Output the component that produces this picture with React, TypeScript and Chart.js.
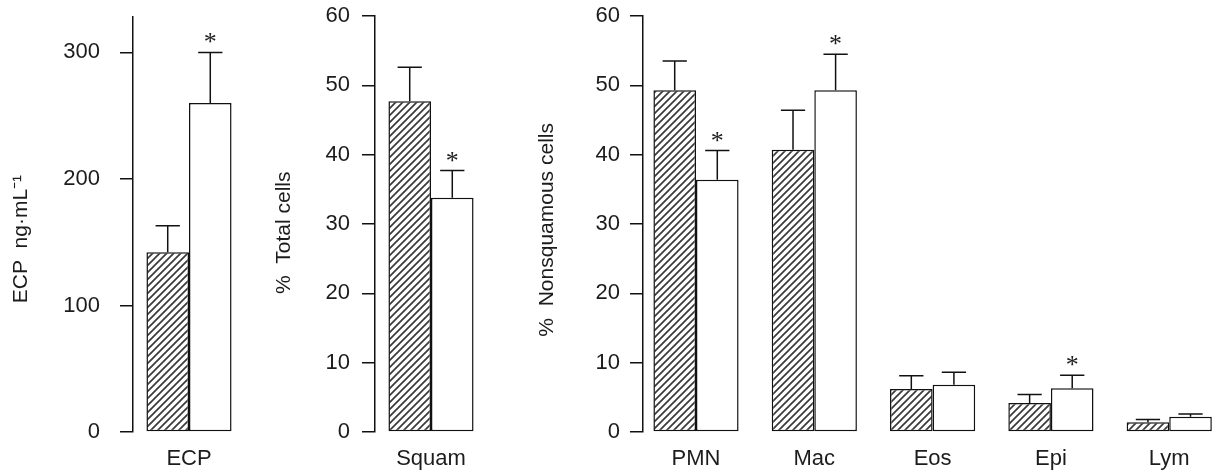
import React, { useEffect, useRef } from "react";
import { Chart, registerables } from "chart.js";

Chart.register(...registerables);

// ---- data ----
const ecpCats = ["ECP"];
const ecpHatched = [142];
const ecpHatchedErr = [21];
const ecpWhite = [260];
const ecpWhiteErr = [40];
const ecpWhiteSig = [true];
const ecpTicks = [0, 100, 200, 300];

const squamCats = ["Squam"];
const squamHatched = [47.7];
const squamHatchedErr = [4.9];
const squamWhite = [33.8];
const squamWhiteErr = [3.9];
const squamWhiteSig = [true];

const cellCats = ["PMN", "Mac", "Eos", "Epi", "Lym"];
const cellHatched = [49.3, 40.7, 6.2, 4.2, 1.4];
const cellHatchedErr = [4.2, 5.7, 1.9, 1.2, 0.4];
const cellWhite = [36.4, 49.3, 6.8, 6.3, 2.2];
const cellWhiteErr = [4.2, 5.2, 1.8, 1.9, 0.4];
const cellWhiteSig = [true, true, false, true, false];

const pctTicks = [0, 10, 20, 30, 40, 50, 60];

const FONT = "'Liberation Sans', Arial, Helvetica, sans-serif";
const STAR_FONT = "'Liberation Serif', 'Times New Roman', serif";
const TEXT = "#1c1c1c";
const LINE = "#111";

function makeHatch(): CanvasPattern | string {
  const s = 7;
  const c = document.createElement("canvas");
  c.width = s;
  c.height = s;
  const g = c.getContext("2d");
  if (!g) return "#888";
  g.fillStyle = "#fff";
  g.fillRect(0, 0, s, s);
  g.strokeStyle = "#3a3a3a";
  g.lineWidth = 1.7;
  g.beginPath();
  g.moveTo(-1, s + 1);
  g.lineTo(s + 1, -1);
  g.moveTo(-2, 2);
  g.lineTo(2, -2);
  g.moveTo(s - 2, s + 2);
  g.lineTo(s + 2, s - 2);
  g.stroke();
  return g.createPattern(c, "repeat") || "#888";
}

const errorBars = {
  id: "errorBars",
  afterDatasetsDraw(chart: any) {
    const ctx = chart.ctx;
    const yScale = chart.scales.y;
    chart.data.datasets.forEach((ds: any, di: number) => {
      const meta = chart.getDatasetMeta(di);
      meta.data.forEach((bar: any, j: number) => {
        const d = ds.data[j];
        const v = typeof d === "number" ? d : d.y;
        const err = ds.errors ? ds.errors[j] : 0;
        const p = bar.getProps(["x", "y", "width"], true);
        const top = yScale.getPixelForValue(v + err);
        const capW = p.width * 0.57;
        ctx.save();
        ctx.strokeStyle = LINE;
        ctx.lineWidth = 1.5;
        ctx.beginPath();
        ctx.moveTo(p.x, p.y);
        ctx.lineTo(p.x, top);
        ctx.moveTo(p.x - capW / 2, top);
        ctx.lineTo(p.x + capW / 2, top);
        ctx.stroke();
        if (ds.sig && ds.sig[j]) {
          ctx.fillStyle = TEXT;
          ctx.font = `26px ${STAR_FONT}`;
          ctx.textAlign = "center";
          ctx.textBaseline = "alphabetic";
          const m = ctx.measureText("*");
          const asc = m.actualBoundingBoxAscent || 18;
          const desc = m.actualBoundingBoxDescent || -8;
          const baseline = top - 14 - (desc - asc) / 2;
          ctx.fillText("*", p.x, baseline);
        }
        ctx.restore();
      });
    });
  },
};

type PanelCfg = {
  left: number;
  width: number;
  axisW: number;
  top: number;
  yMax: number;
  yTicks: number[];
  tickPad: number;
  title: string;
  titlePad: number;
  build: (hatch: CanvasPattern | string) => any;
};

function yScale(p: PanelCfg) {
  return {
    min: 0,
    max: p.yMax,
    afterBuildTicks: (s: any) => {
      s.ticks = p.yTicks.map((v) => ({ value: v }));
    },
    border: { display: true, color: LINE, width: 1.5 },
    grid: {
      display: true,
      drawOnChartArea: false,
      drawTicks: true,
      tickLength: 13,
      lineWidth: 1.5,
      tickWidth: 1.5,
      color: LINE,
      tickColor: LINE,
    },
    ticks: {
      padding: p.tickPad,
      color: TEXT,
      font: { family: FONT, size: 22 },
    },
    title: {
      display: true,
      text: p.title,
      color: TEXT,
      font: { family: FONT, size: 21 },
      padding: { top: p.titlePad, bottom: 0 },
    },
    afterFit: (s: any) => {
      s.width = p.axisW;
      s.paddingTop = 0;
      s.paddingBottom = 0;
    },
  };
}

const xBase = {
  grid: { display: false },
  border: { display: false },
  ticks: {
    padding: 6,
    color: TEXT,
    autoSkip: false,
    maxRotation: 0,
    font: { family: FONT, size: 22 },
  },
  afterFit: (s: any) => {
    s.height = 43;
    s.paddingLeft = 0;
    s.paddingRight = 0;
  },
};

function barDatasets(
  hatch: CanvasPattern | string,
  h: any[],
  hErr: number[],
  w: any[],
  wErr: number[],
  wSig: boolean[],
  catPct: number
) {
  const common = {
    borderColor: LINE,
    borderWidth: 1.5,
    borderSkipped: false,
    barPercentage: 1,
    categoryPercentage: catPct,
  };
  return [
    { ...common, data: h, backgroundColor: hatch, errors: hErr, sig: h.map(() => false) },
    { ...common, data: w, backgroundColor: "#ffffff", errors: wErr, sig: wSig },
  ];
}

const panels: PanelCfg[] = [
  {
    left: 0,
    width: 245,
    axisW: 133,
    top: 17,
    yMax: 328,
    yTicks: ecpTicks,
    tickPad: 20,
    title: "ECP  ng·mL⁻¹     ",
    titlePad: 9,
    build: (hatch) => ({
      labels: ecpCats,
      datasets: barDatasets(hatch, ecpHatched, ecpHatchedErr, ecpWhite, ecpWhiteErr, ecpWhiteSig, 0.76),
    }),
  },
  {
    left: 260,
    width: 227,
    axisW: 115,
    top: 16,
    yMax: 60,
    yTicks: pctTicks,
    tickPad: 12,
    title: "%  Total cells   ",
    titlePad: 12,
    build: (hatch) => ({
      labels: squamCats,
      datasets: barDatasets(hatch, squamHatched, squamHatchedErr, squamWhite, squamWhiteErr, squamWhiteSig, 0.76),
    }),
  },
  {
    left: 530,
    width: 683,
    axisW: 113,
    top: 16,
    yMax: 60,
    yTicks: pctTicks,
    tickPad: 10,
    title: "%  Nonsquamous cells  ",
    titlePad: 5,
    build: (hatch) => ({
      datasets: barDatasets(
        hatch,
        cellHatched.map((v, i) => ({ x: i, y: v })),
        cellHatchedErr,
        cellWhite.map((v, i) => ({ x: i, y: v })),
        cellWhiteErr,
        cellWhiteSig,
        0.72
      ),
    }),
  },
];

function Panel({ cfg, index }: { cfg: PanelCfg; index: number }) {
  const ref = useRef<HTMLCanvasElement | null>(null);
  useEffect(() => {
    if (!ref.current) return;
    const hatch = makeHatch();
    const x =
      index === 2
        ? {
            ...xBase,
            type: "linear",
            offset: false,
            min: -0.448,
            max: 4.37,
            afterBuildTicks: (s: any) => {
              s.ticks = cellCats.map((_, i) => ({ value: i }));
            },
            ticks: {
              ...xBase.ticks,
              callback: (v: any) => cellCats[Math.round(Number(v))] ?? "",
            },
          }
        : { ...xBase, type: "category" };
    const chart = new Chart(ref.current, {
      type: "bar",
      data: cfg.build(hatch),
      options: {
        responsive: false,
        animation: false,
        devicePixelRatio: 1,
        layout: { padding: { top: cfg.top, right: 0, bottom: 0, left: 0 } },
        plugins: { legend: { display: false }, tooltip: { enabled: false } },
        scales: { x: x as any, y: yScale(cfg) as any },
      },
      plugins: [errorBars],
    } as any);
    return () => chart.destroy();
  }, []);
  return (
    <canvas
      ref={ref}
      width={cfg.width}
      height={475}
      style={{ position: "absolute", left: cfg.left, top: 0, width: cfg.width, height: 475 }}
    />
  );
}

export default function App() {
  return (
    <div
      style={{
        position: "absolute",
        left: 0,
        top: 0,
        width: 1213,
        height: 475,
        overflow: "hidden",
        background: "#ffffff",
      }}
    >
      {panels.map((p, i) => (
        <Panel key={i} cfg={p} index={i} />
      ))}
    </div>
  );
}
